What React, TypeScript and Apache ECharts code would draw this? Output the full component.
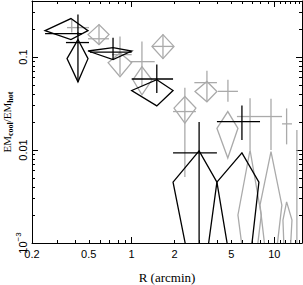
import React, { useEffect, useRef } from "react";
import * as echarts from "echarts";

// ---- data ----
// black crosses
const blackX = [0.42, 0.42, 0.74, 1.5, 2.97, 5.93];
const blackY = [0.178, 0.143, 0.113, 0.058, 0.0093, 0.0202];
const blackXLo = [0.247, 0.346, 0.51, 1.0, 1.95, 3.96];
const blackXHi = [0.449, 0.502, 1.0, 1.95, 3.96, 7.94];
const blackYLo = [0.172, 0.054, 0.094, 0.041, 0.0001, 0.0128];
const blackYHi = [0.185, 0.286, 0.161, 0.083, 0.02, 0.03];

// black diamonds
const bdX = [0.375, 0.42, 0.74, 1.5, 2.97, 5.93];
const bdLeft = [0.247, 0.352, 0.494, 1.0, 1.95, 3.96];
const bdRight = [0.494, 0.494, 1.0, 1.95, 3.96, 7.8];
const bdMid = [0.192, 0.096, 0.116, 0.0436, 0.00452, 0.00452];
const bdTop = [0.259, 0.154, 0.126, 0.0569, 0.0098, 0.0093];
const bdBottom = [0.154, 0.054, 0.0936, 0.0298, 0.000175, 0.00011];

// gray crosses
const grayX = [0.38, 0.59, 0.828, 1.18, 1.657, 3.37, 4.73, 2.36, 6.76, 9.48, 12.2, 14.4];
const grayY = [0.207, 0.157, 0.106, 0.0891, 0.13, 0.053, 0.0427, 0.0259, 0.0229, 0.0229, 0.0191, 0.006];
const grayXLo = [0.352, 0.494, 0.728, 0.973, 1.388, 2.75, 4.03, 1.95, 5.47, 7.94, 11.33, 14.4];
const grayXHi = [0.502, 0.693, 1.0, 1.45, 1.948, 3.96, 5.56, 2.82, 7.94, 11.33, 13.3, 14.4];
const grayYLo = [0.183, 0.136, 0.0645, 0.0482, 0.096, 0.033, 0.033, 0.00512, 0.01, 0.01, 0.0115, 0.0001];
const grayYHi = [0.252, 0.223, 0.166, 0.147, 0.174, 0.0712, 0.0569, 0.0467, 0.0361, 0.0355, 0.028, 0.0164];

// gray diamonds
const gdX = [0.59, 0.828, 1.18, 1.657, 3.37, 2.36, 4.72, 6.76, 9.48, 12.2];
const gdLeft = [0.494, 0.683, 1.02, 1.388, 2.78, 1.98, 3.96, 5.56, 7.94, 11.5];
const gdRight = [0.693, 1.0, 1.388, 1.98, 3.96, 2.82, 5.56, 8.1, 11.3, 13.3];
const gdMid = [0.174, 0.0869, 0.0569, 0.13, 0.0425, 0.0282, 0.0171, 0.002, 0.00255, 0.00176];
const gdTop = [0.223, 0.111, 0.0787, 0.174, 0.0546, 0.0376, 0.0259, 0.01, 0.0096, 0.00277];
const gdBottom = [0.136, 0.0613, 0.0392, 0.096, 0.033, 0.0194, 0.0082, 0.0002, 0.00025, 0.00015];

// axes
const xMin = 0.2;
const xMax = 15.64;
const yMin = 0.001;
const yMax = 0.4;
const xLabelValues = [0.2, 0.5, 1, 2, 5, 10];
const xMajorTicks = [1, 10];
const xMinorTicks = [0.3, 0.4, 0.5, 0.6, 0.7, 0.8, 0.9, 2, 3, 4, 5, 6, 7, 8, 9, 11, 12, 13, 14, 15];
const yLabelValues = [0.001, 0.01, 0.1];
const yMajorTicks = [0.001, 0.01, 0.1];
const yMinorTicks = [
  0.002, 0.003, 0.004, 0.005, 0.006, 0.007, 0.008, 0.009,
  0.02, 0.03, 0.04, 0.05, 0.06, 0.07, 0.08, 0.09,
  0.2, 0.3, 0.4,
];

const BLACK = "#000000";
const GRAY = "#aaaaaa";
const L = (v: number) => Math.log10(v);

function crossData(x: number[], y: number[], xlo: number[], xhi: number[], ylo: number[], yhi: number[]) {
  return x.map((_, i) => [L(x[i]), L(y[i]), L(xlo[i]), L(xhi[i]), L(ylo[i]), L(yhi[i])]);
}
function diamondData(x: number[], left: number[], right: number[], mid: number[], top: number[], bottom: number[]) {
  return x.map((_, i) => [L(x[i]), L(mid[i]), L(left[i]), L(right[i]), L(top[i]), L(bottom[i])]);
}

function makeCross(color: string) {
  return (params: any, api: any) => {
    const x = api.value(0), y = api.value(1);
    const l = api.coord([api.value(2), y]);
    const r = api.coord([api.value(3), y]);
    const b = api.coord([x, api.value(4)]);
    const t = api.coord([x, api.value(5)]);
    const style = { stroke: color, lineWidth: 1.3, fill: null };
    return {
      type: "group",
      children: [
        { type: "line", shape: { x1: l[0], y1: l[1], x2: r[0], y2: r[1] }, style },
        { type: "line", shape: { x1: b[0], y1: b[1], x2: t[0], y2: t[1] }, style },
      ],
    };
  };
}
function makeDiamond(color: string) {
  return (params: any, api: any) => {
    const x = api.value(0), m = api.value(1);
    const pl = api.coord([api.value(2), m]);
    const pt = api.coord([x, api.value(4)]);
    const pr = api.coord([api.value(3), m]);
    const pb = api.coord([x, api.value(5)]);
    return {
      type: "polygon",
      shape: { points: [pl, pt, pr, pb] },
      style: { stroke: color, lineWidth: 1.3, fill: null },
    };
  };
}

function fmtX(v: number) {
  return String(parseFloat(Math.pow(10, v).toPrecision(6)));
}
function fmtY(v: number) {
  const n = parseFloat(Math.pow(10, v).toPrecision(6));
  if (n === 0.001) return "{b|10}{s|−3}";
  return "{b|" + String(n) + "}";
}

const tickFont = { fontFamily: "Liberation Sans", fontSize: 11, color: BLACK };

export default function App() {
  const ref = useRef<HTMLDivElement>(null);
  useEffect(() => {
    if (!ref.current) return;
    const chart = echarts.init(ref.current, null, { renderer: "svg" });
    const xBase = { type: "value", min: L(xMin), max: L(xMax), splitLine: { show: false } };
    const yBase = { type: "value", min: L(yMin), max: L(yMax), splitLine: { show: false } };
    const line = { show: true, onZero: false, lineStyle: { color: BLACK, width: 1 } };
    const noLine = { show: false, onZero: false };
    chart.setOption({
      animation: false,
      backgroundColor: "#ffffff",
      grid: { left: 32, right: 1, top: 1, bottom: 42, containLabel: false, outerBoundsMode: "none" },
      xAxis: [
        {
          ...xBase,
          position: "bottom",
          axisLine: line,
          axisTick: { show: true, inside: true, length: 6, customValues: xMajorTicks.map(L), lineStyle: { color: BLACK } },
          axisLabel: { show: true, customValues: xLabelValues.map(L), formatter: fmtX, margin: 5, ...tickFont },
          name: "R (arcmin)",
          nameLocation: "middle",
          nameGap: 28,
          nameMoveOverlap: false,
          nameTextStyle: { fontFamily: "Liberation Serif", fontSize: 13, lineHeight: 13, color: BLACK },
        },
        {
          ...xBase,
          position: "bottom",
          axisLine: noLine,
          axisTick: { show: true, inside: true, length: 3, customValues: xMinorTicks.map(L), lineStyle: { color: BLACK } },
          axisLabel: { show: false },
        },
        {
          ...xBase,
          position: "top",
          axisLine: line,
          axisTick: { show: true, inside: true, length: 6, customValues: xMajorTicks.map(L), lineStyle: { color: BLACK } },
          axisLabel: { show: false },
        },
        {
          ...xBase,
          position: "top",
          axisLine: noLine,
          axisTick: { show: true, inside: true, length: 3, customValues: xMinorTicks.map(L), lineStyle: { color: BLACK } },
          axisLabel: { show: false },
        },
      ],
      yAxis: [
        {
          ...yBase,
          position: "left",
          axisLine: line,
          axisTick: { show: true, inside: true, length: 6, customValues: yMajorTicks.map(L), lineStyle: { color: BLACK } },
          axisLabel: {
            show: true,
            customValues: yLabelValues.map(L),
            formatter: fmtY,
            rotate: 90,
            margin: 4,
            rich: {
              b: { fontFamily: "Liberation Sans", fontSize: 11, color: BLACK, verticalAlign: "bottom" },
              s: { fontFamily: "Liberation Sans", fontSize: 8, color: BLACK, verticalAlign: "top", padding: [0, 0, 6, 0] },
            },
          },
          name: "{n|EM}{sub|cool}{n|/EM}{sub|hot}",
          nameLocation: "middle",
          nameGap: 18,
          nameMoveOverlap: false,
          nameRotate: 90,
          nameTextStyle: {
            rich: {
              n: { fontFamily: "Liberation Serif", fontSize: 11, color: BLACK },
              sub: { fontFamily: "Liberation Serif", fontSize: 8, fontWeight: "bold", color: BLACK, padding: [6, 0, 0, 0] },
            },
          },
        },
        {
          ...yBase,
          position: "left",
          axisLine: noLine,
          axisTick: { show: true, inside: true, length: 3, customValues: yMinorTicks.map(L), lineStyle: { color: BLACK } },
          axisLabel: { show: false },
        },
        {
          ...yBase,
          position: "right",
          axisLine: line,
          axisTick: { show: true, inside: true, length: 6, customValues: yMajorTicks.map(L), lineStyle: { color: BLACK } },
          axisLabel: { show: false },
        },
        {
          ...yBase,
          position: "right",
          axisLine: noLine,
          axisTick: { show: true, inside: true, length: 3, customValues: yMinorTicks.map(L), lineStyle: { color: BLACK } },
          axisLabel: { show: false },
        },
      ],
      series: [
        {
          type: "custom",
          name: "gray diamonds",
          clip: true,
          renderItem: makeDiamond(GRAY),
          data: diamondData(gdX, gdLeft, gdRight, gdMid, gdTop, gdBottom),
        },
        {
          type: "custom",
          name: "gray crosses",
          clip: true,
          renderItem: makeCross(GRAY),
          data: crossData(grayX, grayY, grayXLo, grayXHi, grayYLo, grayYHi),
        },
        {
          type: "custom",
          name: "black diamonds",
          clip: true,
          renderItem: makeDiamond(BLACK),
          data: diamondData(bdX, bdLeft, bdRight, bdMid, bdTop, bdBottom),
        },
        {
          type: "custom",
          name: "black crosses",
          clip: true,
          renderItem: makeCross(BLACK),
          data: crossData(blackX, blackY, blackXLo, blackXHi, blackYLo, blackYHi),
        },
      ],
    });
    return () => chart.dispose();
  }, []);
  return <div ref={ref} style={{ width: 303, height: 285, position: "absolute", left: 0, top: 0 }} />;
}
